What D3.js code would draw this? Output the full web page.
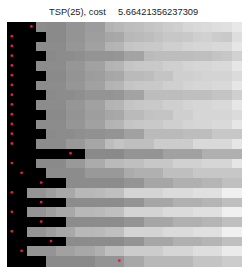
<!DOCTYPE html>
<html>
<head>
<meta charset="utf-8">
<script src="https://cdn.jsdelivr.net/npm/d3@7"></script>
<style>
  body { margin: 0; background: #fff; }
  svg { display: block; }
</style>
</head>
<body>
<script>
// SIZES
var width = 250;
var height = 273;
var gridLeft = 7, gridRight = 241.5, gridTop = 22, gridBottom = 266;

// TITLE
var titleLabel = "TSP(25), cost";
var costValue = "5.66421356237309";

// gray level of each cell (0 = black, 1 = white), one row per city
var row0  = [0,0,0,.55,.54,.54,.58,.58,.61,.61,.70,.72,.74,.75,.77,.78,.80,.81,.84,.85,.86,.87,.88,.91];
var row1  = [0,0,0,0,.54,.54,.58,.58,.62,.62,.65,.66,.72,.73,.74,.76,.78,.78,.79,.81,.82,.80,.79,.87];
var row2  = [0,0,0,.55,.55,.55,.59,.59,.63,.63,.70,.71,.77,.78,.79,.79,.81,.81,.83,.84,.84,.85,.85,.90];
var row3  = [0,0,0,0,.54,.55,.55,.56,.58,.58,.58,.59,.64,.64,.73,.74,.74,.74,.74,.75,.75,.77,.78,.82];
var row4  = [0,0,0,.55,.55,.55,.59,.59,.63,.63,.70,.71,.77,.78,.79,.79,.81,.81,.83,.84,.84,.85,.85,.90];
var row5  = [0,0,0,0,.54,.54,.58,.58,.61,.62,.65,.66,.73,.73,.74,.77,.77,.81,.81,.82,.83,.83,.83,.86];
var row6  = [0,0,0,.55,.55,.55,.59,.59,.63,.63,.70,.71,.77,.78,.79,.79,.81,.81,.83,.84,.84,.85,.85,.90];
var row7  = [0,0,0,0,.54,.55,.55,.56,.58,.58,.58,.59,.64,.64,.74,.74,.74,.74,.75,.75,.75,.77,.77,.81];
var row8  = [0,0,0,.55,.55,.55,.59,.59,.63,.63,.70,.71,.77,.78,.79,.79,.81,.81,.83,.84,.84,.85,.85,.90];
var row9  = [0,0,0,0,.54,.54,.58,.58,.62,.62,.65,.66,.73,.73,.76,.77,.77,.81,.81,.84,.84,.84,.84,.86];
var row10 = [0,0,0,.55,.55,.55,.59,.59,.63,.63,.70,.71,.77,.78,.79,.79,.81,.81,.83,.84,.84,.85,.85,.90];
var row11 = [0,0,0,0,.54,.55,.55,.56,.57,.57,.58,.58,.63,.63,.73,.73,.73,.73,.74,.74,.74,.78,.78,.78];
var row12 = [0,0,0,.55,.55,.55,.60,.60,.65,.65,.74,.77,.75,.75,.75,.80,.80,.80,.80,.85,.85,.85,.85,.90];
var row13 = [0,0,0,0,0,0,0,0,.54,.54,.54,.54,.58,.58,.58,.58,.63,.63,.63,.63,.69,.69,.69,.69];
var row14 = [0,0,0,.54,.54,.54,.60,.60,.67,.67,.73,.73,.75,.75,.78,.78,.78,.82,.82,.82,.84,.84,.84,.90];
var row15 = [0,0,0,0,.55,.55,.55,.55,.60,.60,.60,.60,.67,.69,.69,.69,.75,.75,.75,.78,.78,.78,.78,.78];
var row16 = [0,0,0,0,0,0,.55,.55,.55,.55,.55,.55,.58,.58,.65,.65,.65,.69,.69,.69,.71,.71,.75,.75];
var row17 = [0,0,.58,.58,.62,.66,.66,.72,.72,.73,.75,.75,.83,.83,.83,.83,.86,.86,.86,.88,.88,.88,.94,.94];
var row18 = [0,0,0,0,0,0,.55,.55,.55,.55,.55,.55,.58,.58,.65,.65,.65,.69,.69,.69,.71,.71,.75,.75];
var row19 = [0,0,.58,.58,.62,.66,.66,.72,.72,.73,.75,.75,.83,.83,.83,.83,.86,.86,.86,.88,.88,.88,.94,.94];
var row20 = [0,0,0,0,0,0,.55,.55,.55,.55,.55,.55,.58,.58,.65,.65,.65,.69,.69,.69,.71,.71,.75,.75];
var row21 = [0,0,.58,.58,.62,.66,.66,.72,.72,.73,.75,.75,.83,.83,.83,.83,.86,.86,.86,.88,.88,.88,.94,.94];
var row22 = [0,0,0,0,0,0,.55,.55,.55,.55,.55,.55,.58,.58,.65,.65,.65,.69,.69,.69,.71,.71,.75,.75];
var row23 = [0,0,.58,.58,.58,.63,.63,.66,.66,.69,.75,.75,.80,.80,.80,.80,.84,.84,.84,.87,.87,.87,.92,.92];
var row24 = [0,0,0,0,.54,.54,.54,.54,.54,.58,.58,.58,.66,.66,.72,.72,.72,.72,.72,.77,.77,.77,.80,.80];

var grid = [row0,row1,row2,row3,row4,row5,row6,row7,row8,row9,row10,row11,row12,
            row13,row14,row15,row16,row17,row18,row19,row20,row21,row22,row23,row24];

// column of the red marker in each row
var chosen = [2,0,0,0,0,0,0,0,0,0,0,0,0,6,0,1,3,0,3,0,3,0,4,1,11];

var nRows = grid.length;
var nCols = grid[0].length;

var svg = d3.select("body").append("svg")
    .attr("width", width)
    .attr("height", height);

var x = d3.scaleBand().domain(d3.range(nCols)).range([gridLeft, gridRight]);
var y = d3.scaleBand().domain(d3.range(nRows)).range([gridTop, gridBottom]);
var gray = d3.scaleLinear().domain([0, 1]).range(["#000000", "#ffffff"]);

// cells
var cells = [];
grid.forEach(function(row, i){
    row.forEach(function(v, j){ cells.push({r: i, c: j, v: v}); });
});

svg.append("g")
    .attr("shape-rendering", "crispEdges")
    .selectAll("rect")
    .data(cells)
    .enter()
    .append("rect")
    .attr("x", d => x(d.c))
    .attr("y", d => y(d.r))
    .attr("width", x.bandwidth() + 0.5)
    .attr("height", y.bandwidth() + 0.5)
    .attr("fill", d => gray(d.v));

// red markers
svg.append("g")
    .selectAll("circle")
    .data(chosen)
    .enter()
    .append("circle")
    .attr("cx", d => x(d) + x.bandwidth() * 0.5)
    .attr("cy", (d, i) => y(i) + y.bandwidth() * 0.45)
    .attr("r", 1.4)
    .attr("fill", "#e3203c");

// title
var title = svg.append("text")
    .attr("y", 15)
    .attr("font-family", "Liberation Sans, Arial, sans-serif")
    .attr("font-size", 9.3)
    .attr("fill", "#222");
title.append("tspan").attr("x", 49).text(titleLabel);
title.append("tspan").attr("x", 118).text(costValue);
</script>
</body>
</html>
